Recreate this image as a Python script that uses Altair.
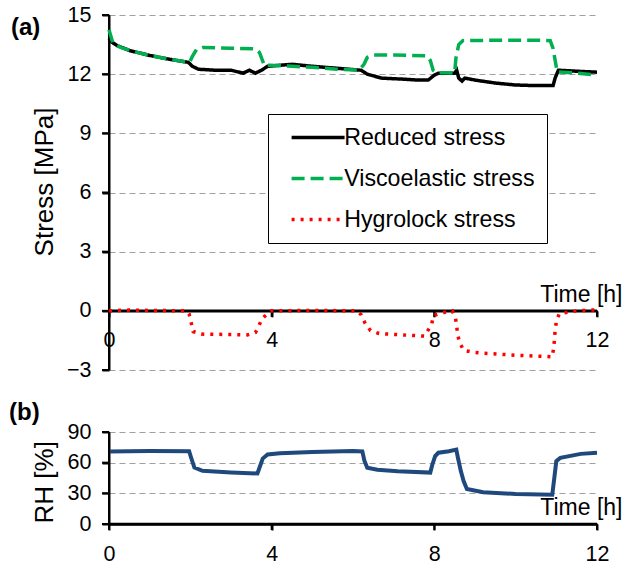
import altair as alt
import pandas as pd

# ---------------- data ----------------
time_reduced = [0, 0.05, 0.2, 0.5, 1.0, 1.5, 1.95, 2.05, 2.2, 2.6, 3.0, 3.3, 3.45, 3.6, 3.75, 3.9,
                4.2, 4.5, 5.0, 5.6, 6.2, 6.35, 6.7, 7.2, 7.6, 7.85, 8.0, 8.1, 8.5, 8.55, 8.6, 8.68,
                8.75, 9.0, 9.5, 10.0, 10.5, 10.92, 10.97, 11.05, 11.5, 12.0]
reduced = [13.8, 13.65, 13.45, 13.2, 12.95, 12.75, 12.6, 12.4, 12.25, 12.2, 12.2, 12.05, 12.2, 12.05,
           12.2, 12.4, 12.45, 12.5, 12.4, 12.3, 12.2, 12.0, 11.8, 11.75, 11.7, 11.7, 11.95, 12.05,
           12.05, 12.2, 11.8, 11.65, 11.8, 11.7, 11.55, 11.45, 11.42, 11.42, 11.8, 12.2, 12.15, 12.1]

time_visco = [0, 0.1, 0.3, 0.6, 1.0, 1.5, 1.98, 2.05, 2.15, 2.3, 3.0, 3.6, 3.7, 3.82, 3.95, 4.5,
              5.0, 5.6, 6.15, 6.27, 6.35, 6.5, 7.0, 7.82, 7.9, 7.97, 8.05, 8.5, 8.53, 8.6, 8.7,
              9.5, 10.5, 10.85, 10.92, 11.02, 11.5, 12.0]
visco = [14.25, 13.55, 13.35, 13.15, 12.95, 12.75, 12.6, 12.9, 13.25, 13.35, 13.32, 13.28, 13.1,
         12.45, 12.45, 12.4, 12.35, 12.25, 12.2, 12.5, 12.85, 12.97, 12.97, 12.93, 12.7, 12.2,
         12.08, 12.05, 12.8, 13.5, 13.7, 13.72, 13.72, 13.7, 13.3, 12.12, 12.05, 11.95]

time_hygro = [0, 0.5, 1.0, 1.9, 1.97, 2.02, 2.07, 2.27, 3.0, 3.4, 3.6, 3.68, 3.75, 3.9, 4.0, 5.0,
              6.1, 6.2, 6.3, 6.43, 6.64, 7.2, 7.75, 7.93, 7.98, 8.24, 8.44, 8.52, 8.55, 8.58, 8.62,
              8.72, 8.95, 9.2, 10.0, 10.9, 10.94, 10.97, 11.0, 11.07, 11.5, 12.0]
hygro = [0.0, 0.04, 0.02, 0.0, -0.17, -0.6, -1.05, -1.18, -1.2, -1.22, -1.1, -0.8, -0.44, -0.13,
         0.0, 0.02, 0.0, -0.2, -0.64, -1.0, -1.15, -1.22, -1.28, -0.72, -0.24, -0.08, 0.0, -0.35,
         -0.8, -1.25, -1.6, -2.0, -2.1, -2.15, -2.25, -2.33, -1.8, -1.0, -0.55, -0.15, 0.0, 0.05]

time_rh = [0, 1.0, 1.97, 2.02, 2.1, 2.3, 3.0, 3.65, 3.7, 3.78, 3.9, 4.2, 5.0, 6.0, 6.23, 6.28,
           6.35, 6.6, 7.1, 7.9, 7.95, 8.02, 8.1, 8.36, 8.54, 8.58, 8.65, 8.72, 8.8, 9.2, 10.0,
           10.9, 10.95, 11.0, 11.1, 11.6, 12.0]
rh = [71, 71.3, 71.2, 64.8, 55.2, 52, 50.5, 49.4, 55, 64, 68, 69.2, 70.5, 71.3, 71, 62, 55, 53,
      51.5, 50.3, 58, 66.4, 69.7, 71.2, 72.8, 64.8, 52, 42, 34.2, 31, 29.4, 28.7, 45, 61.5, 64.8,
      68.6, 69.6]

series_names = ["Reduced stress", "Viscoelastic stress", "Hygrolock stress"]
series_colors = ["#000000", "#00b050", "#ff0000"]
series_dashes = [[1, 0], [13, 6], [3, 6]]
stress_ticks = [-3, 0, 3, 6, 9, 12, 15]
rh_ticks = [0, 30, 60, 90]
time_ticks = [0, 4, 8, 12]
panel_labels = ["(a)", "(b)"]

stress_df = pd.concat([
    pd.DataFrame({"t": time_reduced, "v": reduced, "s": series_names[0]}),
    pd.DataFrame({"t": time_visco, "v": visco, "s": series_names[1]}),
    pd.DataFrame({"t": time_hygro, "v": hygro, "s": series_names[2]}),
], ignore_index=True)
rh_df = pd.DataFrame({"t": time_rh, "rh": rh})

# ---------------- styling ----------------
FONT = "Liberation Sans"
W = 488
H1 = 355
H2 = 92
GRID_Y = dict(grid=True, gridDash=[6, 4], gridColor="#a0a0a0", gridWidth=1.2)
AX = dict(domain=True, ticks=True, domainColor="#000000", tickColor="#000000", tickWidth=2,
          labelFontSize=21.5, labelColor="black", labelFont=FONT, labelFlush=False,
          titleFont=FONT, titleColor="black", titleFontWeight="normal")

sd = stress_ticks
zero_offset = -H1 * (0 - sd[0]) / (sd[-1] - sd[0])

time_scale = alt.Scale(domain=[0, 12], nice=False)
stress_scale = alt.Scale(domain=[sd[0], sd[-1]], nice=False)
rh_scale = alt.Scale(domain=[rh_ticks[0], rh_ticks[-1]], nice=False)

ax_x_top = alt.Axis(values=time_ticks, grid=False, offset=zero_offset, tickSize=6,
                    labelPadding=13, title="Time [h]", titleFontSize=23,
                    titleX=513, titleY=-9.5, titleAlign="right",
                    titleBaseline="alphabetic", domainWidth=2.5, **AX)
ax_y_top = alt.Axis(values=stress_ticks, tickSize=7, labelPadding=11, domainWidth=2,
                    title="Stress [MPa]", titleFontSize=26, titleAngle=-90,
                    titleX=-57, titleY=166.5, titleBaseline="alphabetic",
                    titleAlign="center", **GRID_Y, **AX)
ax_x_bot = alt.Axis(values=time_ticks, grid=False, tickSize=6, labelPadding=13,
                    domainWidth=2.5, title="Time [h]", titleFontSize=23, titleX=513,
                    titleY=-10, titleAlign="right", titleBaseline="alphabetic", **AX)
ax_y_bot = alt.Axis(values=rh_ticks, tickSize=7, labelPadding=11, title="RH [%]",
                    domainWidth=2, titleFontSize=26, titleAngle=-90, titleX=-57, titleY=49.8,
                    titleBaseline="alphabetic", titleAlign="center", **GRID_Y, **AX)


def axis_marks(xfield, yfield, x_values, y_values, xscale, yscale, xaxis, yaxis):
    """Axis lines and tick marks drawn as rules through the chart's own scales."""
    one = alt.Chart(pd.DataFrame({"d": [0]}))
    x0 = xscale.domain[0]
    y0 = 0
    y_line = one.mark_rule(color="black", strokeWidth=2).encode(
        x=alt.X(datum=x0, type="quantitative", scale=xscale, axis=xaxis))
    x_line = one.mark_rule(color="black", strokeWidth=2.5).encode(
        y=alt.Y(datum=y0, type="quantitative", scale=yscale, axis=yaxis))
    y_tick = alt.Chart(pd.DataFrame({yfield: y_values})).mark_rule(
        color="black", strokeWidth=2, xOffset=-7
    ).encode(y=alt.Y(f"{yfield}:Q", scale=yscale, axis=yaxis),
             x=alt.X(datum=x0, type="quantitative", scale=xscale, axis=xaxis),
             x2=alt.X2(datum=x0))
    x_tick = alt.Chart(pd.DataFrame({xfield: x_values})).mark_rule(
        color="black", strokeWidth=2, y2Offset=6
    ).encode(x=alt.X(f"{xfield}:Q", scale=xscale, axis=xaxis),
             y=alt.Y(datum=y0, type="quantitative", scale=yscale, axis=yaxis),
             y2=alt.Y2(datum=y0))
    return [y_line, x_line, y_tick, x_tick]


# custom stroke symbol starting at the symbol centre and running to the right
legend = alt.Legend(title=None, orient="none", legendX=159, legendY=99,
                    symbolType="M0,0H8.83", symbolSize=144, symbolStrokeWidth=3.5,
                    symbolFillColor="transparent",
                    labelFontSize=23.2, labelFont=FONT, labelColor="black", labelOffset=41,
                    strokeColor="black", fillColor="white", padding=12, rowPadding=17,
                    labelLimit=400)
color = alt.Color("s:N", scale=alt.Scale(domain=series_names, range=series_colors), legend=legend)
dash = alt.StrokeDash("s:N", scale=alt.Scale(domain=series_names, range=series_dashes), legend=legend)

x_top = alt.X("t:Q", scale=time_scale, axis=ax_x_top)
y_top = alt.Y("v:Q", scale=stress_scale, axis=ax_y_top)

line_layers = []
for name in series_names:
    line_layers.append(
        alt.Chart(stress_df).transform_filter(alt.datum.s == name)
        .mark_line(strokeWidth=3.5)
        .encode(x=x_top, y=y_top, color=color, strokeDash=dash)
    )

label_a = alt.Chart(pd.DataFrame({"lab": [panel_labels[0]]})).mark_text(
    align="left", baseline="middle", fontSize=24, fontWeight="bold", font=FONT, color="black"
).encode(text="lab:N", x=alt.value(-98), y=alt.value(13))

top = alt.layer(
    *axis_marks("t", "v", time_ticks, stress_ticks, time_scale, stress_scale, ax_x_top, ax_y_top),
    *line_layers, label_a
).properties(width=W, height=H1)

rh_line = alt.Chart(rh_df).mark_line(color="#1f497d", strokeWidth=4).encode(
    x=alt.X("t:Q", scale=time_scale, axis=ax_x_bot),
    y=alt.Y("rh:Q", scale=rh_scale, axis=ax_y_bot))
label_b = alt.Chart(pd.DataFrame({"lab": [panel_labels[1]]})).mark_text(
    align="left", baseline="middle", fontSize=24, fontWeight="bold", font=FONT, color="black"
).encode(text="lab:N", x=alt.value(-100), y=alt.value(-19))

bottom = alt.layer(
    rh_line,
    *axis_marks("t", "rh", time_ticks, rh_ticks, time_scale, rh_scale, ax_x_bot, ax_y_bot),
    label_b
).properties(width=W, height=H2)

chart = (
    alt.vconcat(top, bottom, spacing=20)
    .resolve_scale(x="independent", y="independent")
    .properties(padding={"left": 9, "top": 4, "right": 2, "bottom": 2}, background="white")
    .configure_view(stroke=None)
)

chart.save("out.html", embed_options={"renderer": "svg", "actions": False})
